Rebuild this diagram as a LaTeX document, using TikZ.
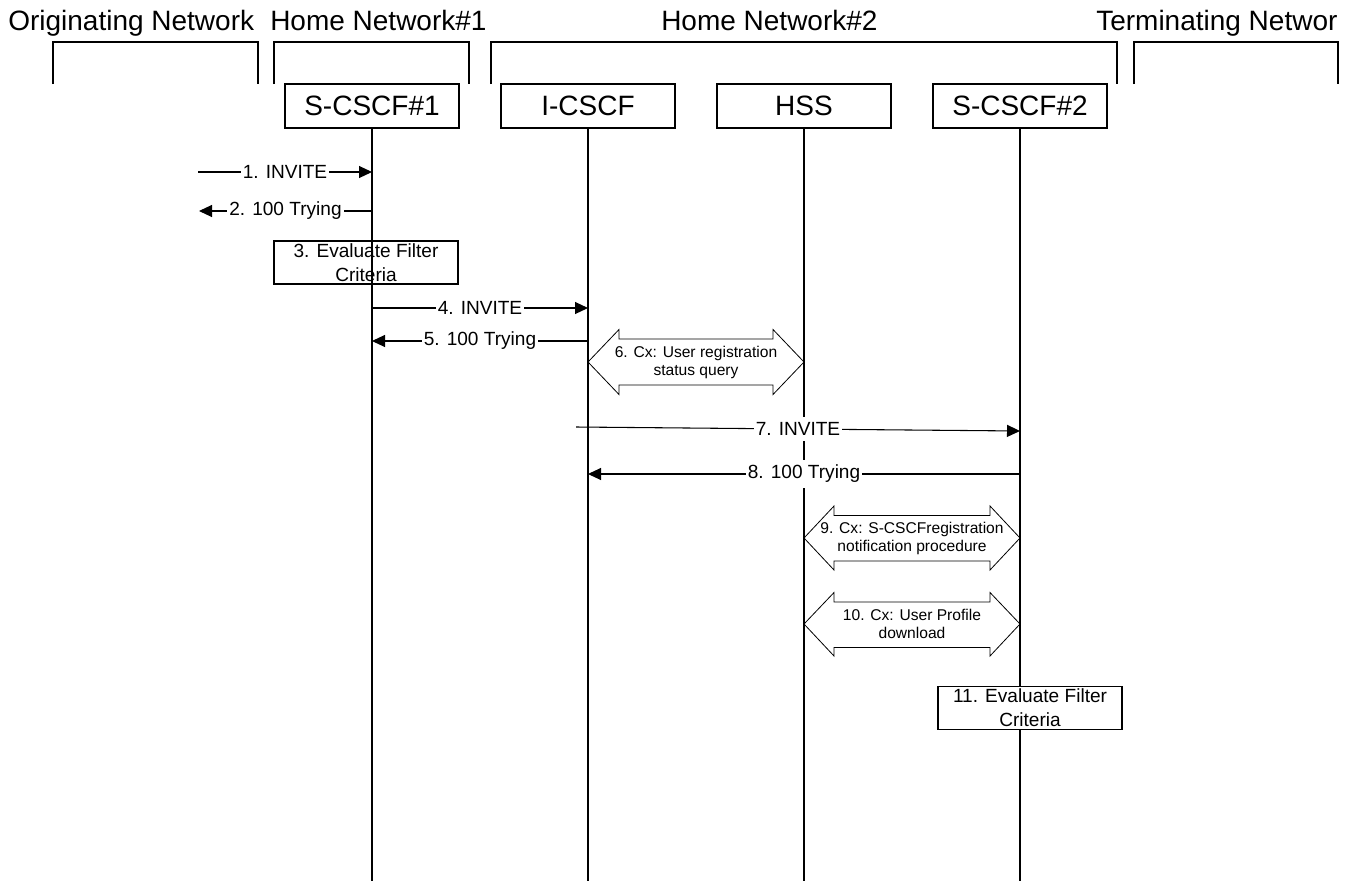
\documentclass[tikz,border=0pt]{standalone}
\usepackage{fontspec}
\setmainfont{Liberation Sans}
\usetikzlibrary{arrows.meta}
\tikzset{
  lane/.style={draw, line width=0.8pt, minimum width=130.5pt, minimum height=33pt, inner sep=0pt, font=\fontsize{21}{24}\selectfont},
  life/.style={line width=1.1pt},
  msg/.style={line width=0.8pt, -{Triangle[length=9.75pt,width=9pt]}},
  lbl/.style={fill=white, inner xsep=1.5pt, inner ysep=4pt, font=\fontsize{14.3}{17}\selectfont},
  actbox/.style={draw, line width=0.8pt, minimum width=138pt, minimum height=32.25pt, inner sep=0pt, align=center, font=\fontsize{14.3}{18}\selectfont},
  cxlbl/.style={align=center, inner sep=0pt, font=\fontsize{11.7}{13.5}\selectfont},
  cxarrow/.style={draw, line width=0.6pt, line join=miter},
  grp/.style={line width=0.8pt},
  head/.style={anchor=base west, inner sep=0pt, font=\fontsize{21}{24}\selectfont}
}
\begin{document}
\begin{tikzpicture}[x=0.75pt, y=-0.75pt]
\useasboundingbox (0,0) rectangle (1351,881);
\fill[white] (0,0) rectangle (1351,881);

% headings
\node[head] (hOrig) at (8,31) {Originating Network};
\node[head] (hHome1) at (270,31) {Home Network\#1};
\node[head] (hHome2) at (661,31) {Home Network\#2};
\node[head] (hTerm) at (1096,31) {Terminating Networ};

% group brackets
\draw[grp] (53,84) -- (53,42) -- (258,42) -- (258,84);
\draw[grp] (274,84) -- (274,42) -- (469,42) -- (469,84);
\draw[grp] (491,84) -- (491,42) -- (1117,42) -- (1117,84);
\draw[grp] (1134,84) -- (1134,42) -- (1338,42) -- (1338,84);

% lane heads
\node[lane] (s1) at (372,106) {S-CSCF\#1};
\node[lane] (ic) at (588,106) {I-CSCF};
\node[lane] (hss) at (804,106) {HSS};
\node[lane] (s2) at (1020,106) {S-CSCF\#2};

% lifelines
\coordinate (bot) at (0,881);
\draw[life] (s1.south) -- (s1.south |- bot);
\draw[life] (ic.south) -- (ic.south |- bot);
\draw[life] (hss.south) -- (hss.south |- bot);
\draw[life] (s2.south) -- (s2.south |- bot);

% 1, 2
\coordinate (m1a) at (198,172);
\coordinate (m1b) at (372,172);
\draw[msg] (m1a) -- node[lbl] {1. INVITE} (m1b);
\coordinate (m2a) at (372,211);
\coordinate (m2b) at (199,211);
\draw[msg] (m2a) -- node[lbl] {2. 100 Trying} (m2b);

% 3
\node[actbox] (ev1) at (366,262.5) {3. Evaluate Filter\\Criteria};

% 4, 5
\coordinate (m4a) at (372,308);
\coordinate (m4b) at (588,308);
\draw[msg] (m4a) -- node[lbl] {4. INVITE} (m4b);
\coordinate (m5a) at (588,341);
\coordinate (m5b) at (372,341);
\draw[msg] (m5a) -- node[lbl] {5. 100 Trying} (m5b);

% 6
\draw[cxarrow] (588,362) -- (619,329.5) -- (619,339) -- (773,339) -- (773,329.5) -- (804,362)
  -- (773,394.5) -- (773,385) -- (619,385) -- (619,394.5) -- cycle;
\node[cxlbl] (cx6) at (696,362) {6. Cx: User registration\\status query};

% 7, 8
\coordinate (m7a) at (576,427);
\coordinate (m7b) at (1020,431);
\draw[msg] (m7a) -- node[lbl] {7. INVITE} (m7b);
\coordinate (m8a) at (1020,474);
\coordinate (m8b) at (588,474);
\draw[msg] (m8a) -- node[lbl] {8. 100 Trying} (m8b);

% 9
\draw[cxarrow] (804,538) -- (834,506) -- (834,515.5) -- (990,515.5) -- (990,506) -- (1020,538)
  -- (990,570) -- (990,561) -- (834,561) -- (834,570) -- cycle;
\node[cxlbl] (cx9) at (912,538) {9. Cx: S-CSCFregistration\\notification procedure};

% 10
\draw[cxarrow] (804,624) -- (834,592.5) -- (834,602) -- (990,602) -- (990,592.5) -- (1020,624)
  -- (990,656) -- (990,647.5) -- (834,647.5) -- (834,656) -- cycle;
\node[cxlbl] (cx10) at (912,624) {10. Cx: User Profile\\download};

% 11
\node[actbox, fill=white] (ev2) at (1030,708) {11. Evaluate Filter\\Criteria};
\end{tikzpicture}
\end{document}
